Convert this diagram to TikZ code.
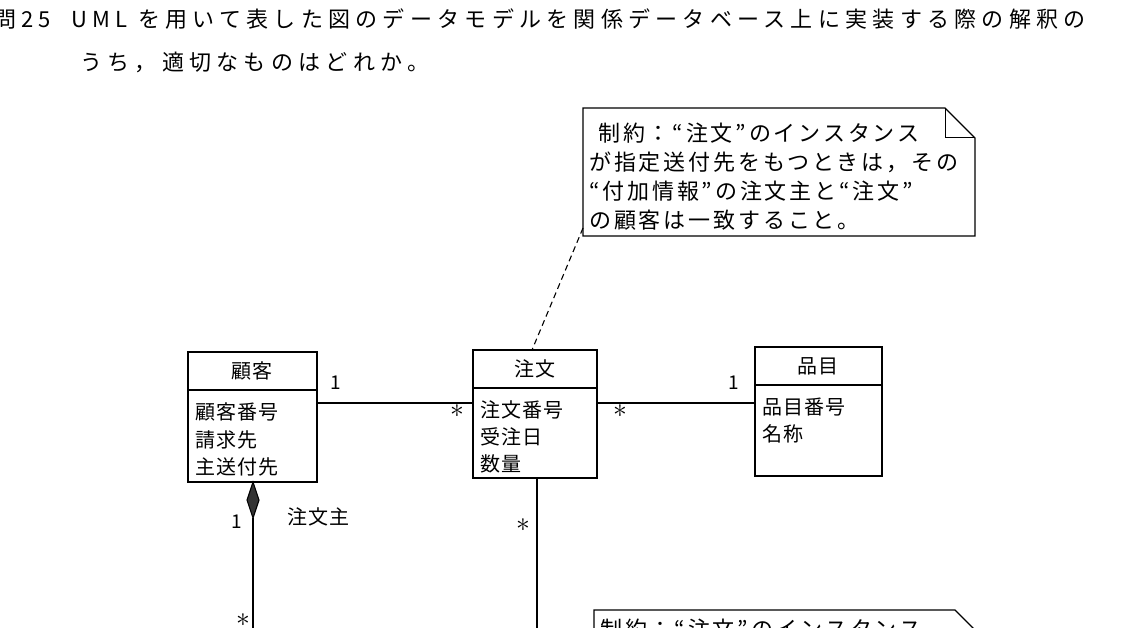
\documentclass[tikz,border=0pt]{standalone}
\usepackage{fontspec}
\usepackage{graphicx}
\setmainfont{Noto Sans CJK JP}
\begin{document}
\begin{tikzpicture}[x=1pt,y=-1pt,
  t/.style={inner sep=0pt,anchor=west,font=\fontsize{20}{24}\selectfont\addfontfeature{LetterSpace=6}},
  nt/.style={inner sep=0pt,anchor=west,font=\fontsize{22}{26}\selectfont\addfontfeature{LetterSpace=13}},
  q/.style={inner sep=0pt,anchor=west,font=\fontsize{22}{26}\selectfont\addfontfeature{LetterSpace=24}},
  m/.style={inner sep=0pt,font=\fontsize{19}{22}\selectfont},
  st/.style={inner sep=0pt,font=\fontsize{12}{12}\selectfont},
  box/.style={draw,line width=1.2pt},
  ln/.style={line width=1.1pt}]
\useasboundingbox (0,0) rectangle (1147,628);
\clip (0,0) rectangle (1147,628);
\node[q] (title1) at (-6,19) {問25\ \ UML\ を用いて表した図のデータモデルを関係データベース上に実装する際の解釈の};
\node[q] (title2) at (80,62) {うち，適切なものはどれか。};
% top note
\draw[box] (583,108) -- (945,108) -- (975,138) -- (975,236) -- (583,236) -- cycle;
\draw[line width=1pt] (945,108) -- (945,138) -- (975,138);
\node[nt] (n1) at (598,133) {制約：“注文”のインスタンス};
\node[nt] (n2) at (589,162) {が指定送付先をもつときは，その};
\node[nt] (n3) at (589,191) {“付加情報”の注文主と“注文”};
\node[nt] (n4) at (589,220) {の顧客は一致すること。};
\coordinate (nb) at (583,228);
% classes
\draw[box] (188,352) rectangle (317,482); \draw[box] (188,390) -- (317,390);
\node[t,anchor=center] (kokyaku) at (252,371) {顧客};
\node[t] at (195,412) {顧客番号};
\node[t] at (195,440) {請求先};
\node[t] at (195,467) {主送付先};
\draw[box] (473,350) rectangle (597,478); \draw[box] (473,388) -- (597,388);
\node[t,anchor=center] (chumon) at (535,369) {注文};
\node[t] at (480,410) {注文番号};
\node[t] at (480,437) {受注日};
\node[t] at (480,464) {数量};
\draw[box] (755,347) rectangle (882,476); \draw[box] (755,385) -- (882,385);
\node[t,anchor=center] (hinmoku) at (818,366) {品目};
\node[t] at (762,407) {品目番号};
\node[t] at (762,434) {名称};
\coordinate (ct) at (532,350);
\draw[ln,dash pattern=on 6pt off 4pt] (nb) -- (ct);
% associations
\draw[ln] (317,403) -- (473,403);
\node[m] at (336,383) {1}; \node[st] at (457,411) {\scalebox{2.3}{$\ast$}};
\draw[ln] (597,403) -- (755,403);
\node[st] at (620,411) {\scalebox{2.3}{$\ast$}}; \node[m] at (734,383) {1};
\draw[ln,fill=black!80] (253,482) -- (259,500) -- (253,518) -- (247,500) -- cycle;
\draw[ln] (253,518) -- (253,628);
\node[m] at (237,522) {1}; \node[t] at (287,517) {注文主};
\node[st] at (243,620) {\scalebox{2.3}{$\ast$}};
\draw[ln] (537,478) -- (537,628);
\node[st] at (523,525) {\scalebox{2.3}{$\ast$}};
% bottom note
\draw[box] (594,628) -- (594,610) -- (955,610) -- (985,640);
\node[nt] at (600,629) {制約：“注文”のインスタンス};
\end{tikzpicture}
\end{document}
